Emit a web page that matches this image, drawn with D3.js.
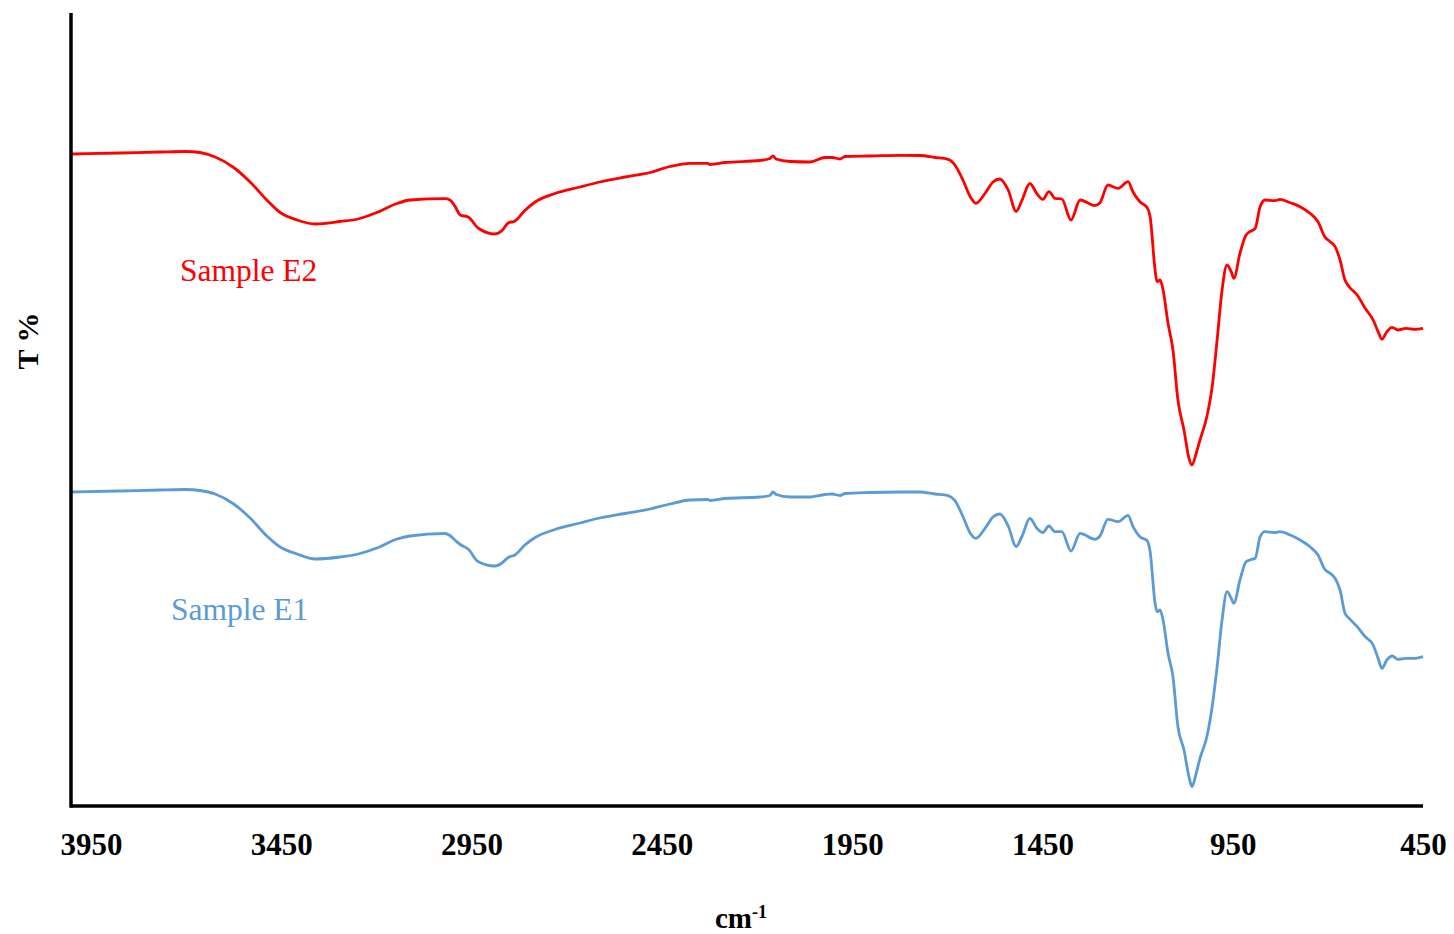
<!DOCTYPE html>
<html>
<head>
<meta charset="utf-8">
<title>FTIR</title>
<style>
  body { margin: 0; background: #fff; }
  text { font-family: "Liberation Serif", "Times New Roman", serif; }
</style>
</head>
<body>
<div id="chart"></div>
<script src="https://cdn.jsdelivr.net/npm/d3@7/dist/d3.min.js"></script>
<script>

// wavenumber (cm-1), shared by both spectra
var wavenumber = [4000, 3874, 3769, 3700, 3664, 3624, 3577, 3532, 3488, 3453,
  3409, 3361, 3296, 3248, 3199, 3146, 3112, 3020, 3007, 2994,
  2980, 2959, 2933, 2889, 2870, 2854, 2836, 2810, 2783, 2731,
  2665, 2613, 2547, 2481, 2429, 2376, 2329, 2324, 2284, 2192,
  2166, 2158, 2150, 2113, 2061, 2021, 2003, 1982, 1969, 1903,
  1824, 1772, 1732, 1698, 1680, 1659, 1640, 1625, 1601, 1580,
  1562, 1540, 1519, 1504, 1483, 1464, 1449, 1433, 1417, 1399,
  1375, 1351, 1312, 1299, 1278, 1251, 1225, 1212, 1194, 1175,
  1167, 1154, 1149, 1141, 1133, 1120, 1107, 1094, 1078, 1065,
  1057, 1046, 1036, 1018, 1004, 991, 978, 965, 954, 947,
  931, 915, 905, 891, 878, 865, 839, 826, 799, 773,
  747, 726, 708, 694, 681, 668, 655, 644, 623, 602,
  581, 568, 558, 545, 531, 516, 495, 471, 450];

// Sample E2 (red), offset transmittance
var sampleE2 = [65.2, 65.3, 65.4, 65.45, 65.35, 64.9, 63.9, 62.4, 60.6, 59.35,
  58.6, 58.2, 58.45, 58.7, 59.35, 60.25, 60.6, 60.73, 60.6, 60.0,
  59.1, 58.9, 57.8, 57.2, 57.55, 58.3, 58.5, 59.55, 60.4, 61.25,
  61.9, 62.4, 62.9, 63.35, 63.95, 64.27, 64.27, 64.15, 64.35, 64.55,
  64.75, 65.0, 64.7, 64.45, 64.4, 64.85, 64.85, 64.7, 64.95, 65.0,
  65.07, 65.05, 64.85, 64.67, 64.1, 62.6, 60.95, 60.27, 61.25, 62.4,
  62.7, 61.6, 59.45, 60.55, 62.25, 61.2, 60.67, 61.43, 60.77, 60.7,
  58.6, 60.6, 60.05, 60.3, 62.1, 61.77, 62.43, 61.4, 60.43, 59.85,
  58.93, 53.6, 52.43, 52.6, 51.6, 48.27, 45.6, 40.6, 37.6, 34.77,
  34.1, 35.27, 36.6, 38.93, 41.93, 46.6, 51.6, 54.1, 53.43, 52.77,
  55.27, 57.1, 57.43, 57.77, 59.93, 60.6, 60.53, 60.67, 60.33, 59.93,
  59.27, 58.43, 56.93, 56.43, 55.93, 54.6, 52.6, 51.93, 51.1, 49.77,
  48.6, 47.43, 46.67, 47.43, 47.87, 47.6, 47.77, 47.67, 47.77];

// Sample E1 (blue)
var sampleE1 = [31.4, 31.5, 31.6, 31.65, 31.55, 31.2, 30.25, 28.8, 27.0, 25.9,
  25.2, 24.7, 24.9, 25.2, 25.8, 26.7, 27.0, 27.25, 27.05, 26.6,
  26.15, 25.7, 24.45, 24.0, 24.3, 24.85, 25.1, 26.1, 26.85, 27.65,
  28.3, 28.8, 29.25, 29.7, 30.2, 30.6, 30.65, 30.55, 30.75, 30.9,
  31.05, 31.4, 31.15, 30.9, 30.9, 31.15, 31.2, 31.05, 31.25, 31.35,
  31.4, 31.4, 31.2, 31.03, 30.53, 28.95, 27.3, 26.77, 27.75, 28.9,
  29.2, 28.0, 25.95, 26.95, 28.75, 27.75, 27.35, 28.0, 27.43, 27.43,
  25.5, 27.27, 26.67, 27.0, 28.67, 28.43, 29.07, 27.93, 26.93, 26.55,
  25.43, 20.27, 19.43, 19.6, 18.6, 15.27, 12.93, 7.93, 5.6, 2.93,
  1.93, 3.27, 4.77, 6.93, 9.93, 13.93, 18.6, 21.43, 20.77, 20.27,
  22.6, 24.43, 24.6, 24.77, 26.93, 27.43, 27.33, 27.43, 27.1, 26.6,
  25.93, 25.1, 23.67, 23.27, 22.77, 21.6, 19.27, 18.77, 17.93, 16.93,
  16.1, 14.77, 13.77, 14.6, 15.0, 14.67, 14.77, 14.77, 14.93];

var xTicks = [3950, 3450, 2950, 2450, 1950, 1450, 950, 450];

var W = 1454, H = 934;
var mLeft = 72, mRight = 1423, mTop = 13, mBottom = 806;

var svg = d3.select('#chart')
  .append('svg')
  .attr('width', W)
  .attr('height', H);

var x = d3.scaleLinear()
  .domain([4000, 450])
  .range([mLeft, mRight]);

var y = d3.scaleLinear()
  .domain([0, 79.3])
  .range([mBottom, mTop]);

var line = d3.line()
  .x(function(d) { return x(d[0]); })
  .y(function(d) { return y(d[1]); })
  .curve(d3.curveMonotoneX);

var series = [
  { name: 'Sample E2', values: sampleE2, color: '#ff0000', lx: 180, ly: 281 },
  { name: 'Sample E1', values: sampleE1, color: '#5b9bd5', lx: 171, ly: 620 }
];

series.forEach(function(s) {
  var pts = wavenumber.map(function(w, i) { return [w, s.values[i]]; });
  svg.append('path')
    .attr('d', line(pts))
    .attr('fill', 'none')
    .attr('stroke', s.color)
    .attr('stroke-width', 2.8)
    .attr('stroke-linejoin', 'round');

  svg.append('text')
    .attr('x', s.lx)
    .attr('y', s.ly)
    .style('font-size', '31.5px')
    .style('fill', s.color)
    .text(s.name);
});

// axes
var xAxis = d3.axisBottom(x)
  .tickValues(xTicks)
  .tickFormat(d3.format('d'))
  .tickSize(0)
  .tickPadding(0);

var gx = svg.append('g')
  .attr('transform', 'translate(0,' + mBottom + ')')
  .call(xAxis);
gx.select('.domain').remove();
gx.selectAll('text')
  .attr('y', 49)
  .attr('dy', null)
  .style('font-family', '"Liberation Serif", "Times New Roman", serif')
  .style('font-size', '31px')
  .style('font-weight', 'bold')
  .style('fill', '#000');

svg.append('line')
  .attr('x1', mLeft - 1).attr('x2', mRight)
  .attr('y1', mBottom).attr('y2', mBottom)
  .attr('stroke', '#000')
  .attr('stroke-width', 3.5);

svg.append('line')
  .attr('x1', mLeft - 1).attr('x2', mLeft - 1)
  .attr('y1', mTop).attr('y2', mBottom + 1.75)
  .attr('stroke', '#000')
  .attr('stroke-width', 3.5);

// axis titles
var xt = svg.append('text')
  .attr('x', 741)
  .attr('y', 928)
  .attr('text-anchor', 'middle')
  .style('font-size', '29px')
  .style('font-weight', 'bold');
xt.append('tspan').text('cm');
xt.append('tspan')
  .attr('dy', -10)
  .style('font-size', '18px')
  .text('-1');

svg.append('text')
  .attr('transform', 'translate(38,341) rotate(-90)')
  .attr('text-anchor', 'middle')
  .style('font-size', '30px')
  .style('font-weight', 'bold')
  .text('T %');

</script>
</body>
</html>
